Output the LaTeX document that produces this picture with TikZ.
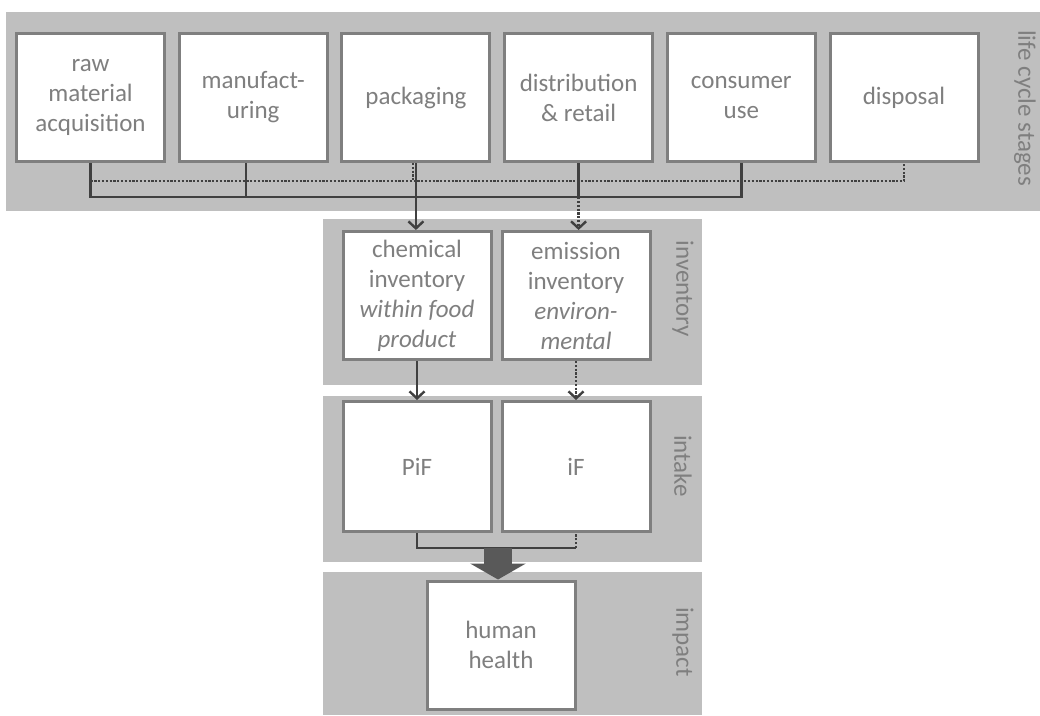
\documentclass[tikz,border=0pt]{standalone}
\usepackage{fontspec}
\setmainfont{Carlito}
\usetikzlibrary{positioning,arrows.meta}
\definecolor{bandgray}{HTML}{BFBFBF}
\definecolor{boxline}{HTML}{7F7F7F}
\definecolor{linkgray}{HTML}{404040}
\definecolor{bigarrow}{HTML}{595959}

\begin{document}
\begin{tikzpicture}[x=1pt,y=-1pt,
  band/.style={fill=bandgray},
  stage/.style={draw=boxline,fill=white,line width=3pt,minimum width=148pt,minimum height=128pt,
    align=center,text=boxline,inner sep=2pt,font=\fontsize{25}{30}\selectfont},
  tag/.style={rotate=-90,text=boxline,font=\fontsize{25}{30}\selectfont},
  link/.style={draw=linkgray,line width=2.4pt},
  dots/.style={link,dash pattern=on 2.2pt off 1.6pt},
  tip/.style={-{Straight Barb[length=7pt,width=15pt]}}
]
\useasboundingbox (0,0) rectangle (1040,715);

% background bands
\fill[band] (6,12) rectangle (1040,211);
\fill[band] (323,219) rectangle (702,385);
\fill[band] (323,396) rectangle (702,562);
\fill[band] (323,572) rectangle (702,715);

% life cycle stages
\node[stage] (raw) at (90.5,97.5) {raw\\material\\acquisition};
\node[stage, right=11.7pt of raw] (manu) {manufact-\\uring};
\node[stage, right=11.7pt of manu] (pack) {packaging};
\node[stage, right=11.7pt of pack] (dist) {distribution\\\& retail};
\node[stage, right=11.7pt of dist] (cons) {consumer\\use};
\node[stage, right=11.7pt of cons] (disp) {disposal};

% inventory, intake, impact
\node[stage] (chem) at (417,295.5) {chemical\\inventory\\\textit{within food}\\\textit{product}};
\node[stage, right=8pt of chem] (emis) {emission\\inventory\\\textit{environ-}\\\textit{mental}};
\node[stage, minimum height=130pt] (pif) at (417,466.5) {PiF};
\node[stage, minimum height=130pt, right=8pt of pif] (if) {iF};
\node[stage] (hh) at (501,645) {human\\health};

\node[tag] (lcs) at (1025,108) {life cycle stages};
\node[tag] (inv) at (683,289) {inventory};
\node[tag] (int) at (683,466) {intake};
\node[tag] (imp) at (683,642) {impact};

% buses
\coordinate (ebus) at (0,181);
\coordinate (cbus) at (0,197);
\coordinate (merge) at (498,548);

\draw[dots] (raw.south |- ebus) -- (disp.south |- ebus) -- (disp.south);
\draw[dots] ([xshift=-3pt]pack.south) -- ([xshift=-3pt]pack.south |- ebus);
\draw[dots,tip] (dist.south) -- (dist.south |- emis.north);

\draw[link] (raw.south) -- (raw.south |- cbus) -- (cons.south |- cbus) -- (cons.south);
\draw[link] ([xshift=-7pt]manu.south) -- ([xshift=-7pt]manu.south |- cbus);
\draw[link] (dist.south) -- (dist.south |- cbus);
\draw[link,tip] (pack.south) -- (pack.south |- chem.north);

\draw[link,tip] (chem.south) -- (pif.north);
\draw[dots,tip] (emis.south) -- (if.north);

\draw[link] (pif.south) -- (pif.south |- merge) -- (if.south |- merge);
\draw[dots] (if.south |- merge) -- (if.south);
\draw[bigarrow,line width=28pt,-{Triangle[length=16pt,width=55pt]}] (merge) -- (merge |- hh.north);
\end{tikzpicture}
\end{document}
